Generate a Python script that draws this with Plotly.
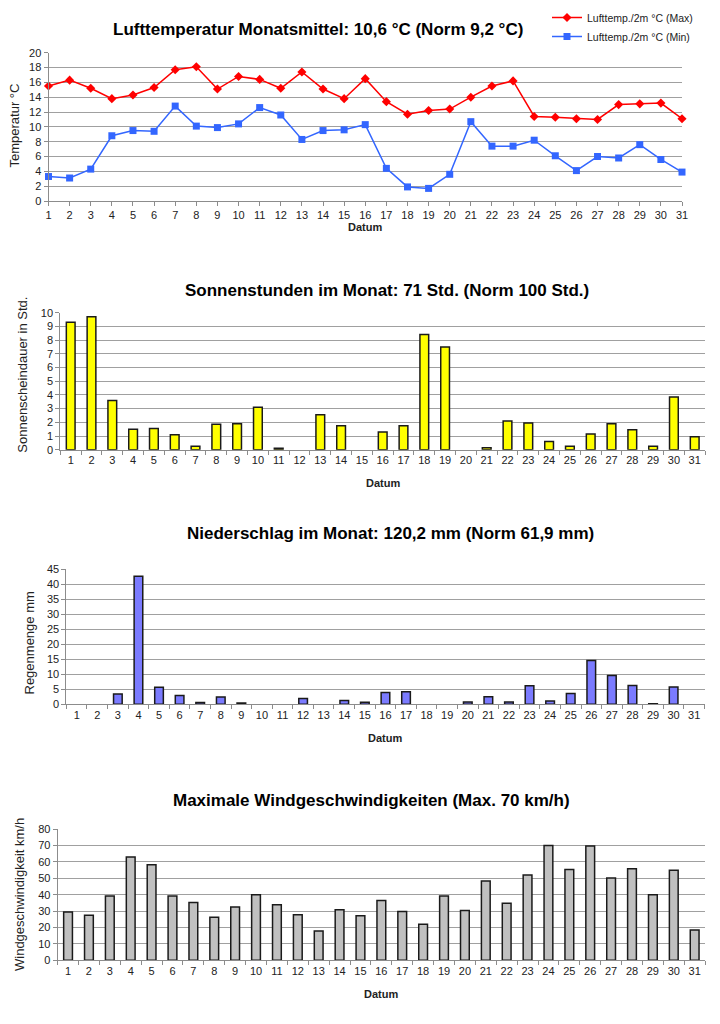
import plotly.graph_objects as go

W, H = 720, 1024
# the page shows the figure 8 px in from the top left corner
RAND = 8

tage = list(range(1, 32))
tage_txt = [str(t) for t in tage]

temp_max = [15.5, 16.3, 15.2, 13.8, 14.3, 15.3, 17.7, 18.1, 15.1, 16.8, 16.4, 15.2, 17.4, 15.1, 13.8, 16.5,
            13.4, 11.7, 12.2, 12.4, 14.0, 15.5, 16.2, 11.4, 11.3, 11.1, 11.0, 13.0, 13.1, 13.2, 11.1]
temp_min = [3.3, 3.1, 4.3, 8.8, 9.5, 9.4, 12.8, 10.1, 9.9, 10.4, 12.6, 11.6, 8.3, 9.5, 9.6, 10.3,
            4.4, 1.9, 1.7, 3.6, 10.7, 7.4, 7.4, 8.2, 6.1, 4.1, 6.0, 5.8, 7.6, 5.6, 3.9]
# None = kein Wert an dem Tag (kein Balken)
sonne = [9.3, 9.7, 3.6, 1.5, 1.55, 1.1, 0.25, 1.85, 1.9, 3.1, 0.1, None, 2.55, 1.75, None, 1.3,
         1.75, 8.4, 7.5, None, 0.15, 2.1, 1.95, 0.6, 0.25, 1.15, 1.9, 1.45, 0.25, 3.85, 0.95]
regen = [None, None, 3.4, 42.7, 5.7, 2.9, 0.6, 2.4, 0.4, None, None, 1.9, None, 1.3, 0.7, 3.9,
         4.2, None, None, 0.8, 2.5, 0.8, 6.2, 1.1, 3.6, 14.6, 9.6, 6.3, 0.2, 5.8, None]
wind = [29.5, 27.5, 39.2, 63, 58.2, 39.2, 35.2, 26.3, 32.5, 40, 33.8, 27.8, 17.8, 30.8, 27.2, 36.5,
        29.8, 22, 39.2, 30.3, 48.3, 34.7, 52, 70, 55.3, 69.6, 50.2, 55.8, 40, 54.8, 18.5]

titel = ["Lufttemperatur Monatsmittel: 10,6 °C (Norm 9,2 °C)",
         "Sonnenstunden im Monat: 71 Std. (Norm 100 Std.)",
         "Niederschlag im Monat: 120,2 mm (Norm 61,9 mm)",
         "Maximale Windgeschwindigkeiten (Max. 70 km/h)"]
y_titel = ["Temperatur °C", "Sonnenscheindauer in Std.", "Regenmenge mm", "Windgeschwindigkeit km/h"]

NARROW = "Liberation Sans Narrow, Arial Narrow, Liberation Sans, Arial"
ARIAL = "Liberation Sans, Arial"


def px_x(v):
    return (v - RAND) / W


def px_y(v):
    return 1 - (v - RAND) / H


# plot areas in pixels: left, right, top, bottom
boxes = [(48.5, 682, 52.7, 201), (60.3, 705.1, 312.7, 449.7),
         (66.4, 704.5, 569.3, 704.3), (57.6, 705.1, 829, 960.3)]
titel_pos = [(318, 29.3), (387, 290.7), (390, 533), (371, 800.7)]
ytitel_pos = [(14, 125.5), (21.7, 375), (28.5, 643), (19, 895)]
datum_y = [227.3, 482.7, 738, 993.7]
y_ranges = [(0, 20, 2), (0, 10, 1), (0, 45, 5), (0, 80, 10)]

fig = go.Figure()

fig.add_trace(go.Scatter(x=tage, y=temp_max, mode="lines+markers", name="Lufttemp./2m °C (Max)",
                         line=dict(color="#ff0000", width=1.5), cliponaxis=False,
                         marker=dict(symbol="diamond", size=7, color="#ff0000"),
                         xaxis="x", yaxis="y"))
fig.add_trace(go.Scatter(x=tage, y=temp_min, mode="lines+markers", name="Lufttemp./2m °C (Min)",
                         line=dict(color="#3366ff", width=1.5), cliponaxis=False,
                         marker=dict(symbol="square", size=7, color="#3366ff"),
                         xaxis="x", yaxis="y"))

bar_daten = [(sonne, "#ffff00"), (regen, "#7b7bff"), (wind, "#c0c0c0")]
for i, (werte, farbe) in enumerate(bar_daten):
    n = i + 2
    fig.add_trace(go.Bar(x=tage_txt, y=werte, width=0.42, showlegend=False,
                         marker=dict(color=farbe, line=dict(color="#1a1a1a", width=1.5)),
                         xaxis="x%d" % n, yaxis="y%d" % n))

layout = dict(width=W, height=H, margin=dict(l=0, r=0, t=0, b=0, pad=0, autoexpand=False),
              paper_bgcolor="white", plot_bgcolor="white", bargap=0.58,
              font=dict(family=ARIAL, size=11, color="#222222"),
              legend=dict(x=px_x(547), y=px_y(3), xanchor="left", yanchor="top",
                          font=dict(family=ARIAL, size=10.5, color="#222222"),
                          bgcolor="rgba(0,0,0,0)", tracegroupgap=0))

annotations = []
for i in range(4):
    n = "" if i == 0 else str(i + 1)
    l, r, t, b = boxes[i]
    y0, y1, dy = y_ranges[i]
    xa = dict(domain=[px_x(l), px_x(r)], anchor="y" + n, showgrid=False,
              showline=True, linecolor="#8c8c8c", linewidth=1,
              ticks="outside", ticklen=4, tickcolor="#8c8c8c", tickangle=0,
              tickfont=dict(family=ARIAL, size=11, color="#222222"), fixedrange=True)
    if i == 0:
        xa.update(type="linear", range=[1, 31], tickmode="array", tickvals=tage)
    else:
        xa.update(type="category", tickson="boundaries")
    ya = dict(domain=[px_y(b), px_y(t)], anchor="x" + n, range=[y0, y1], dtick=dy,
              tick0=0, showgrid=True, gridcolor="#a0a0a0", gridwidth=1,
              showline=True, linecolor="#8c8c8c", linewidth=1, zeroline=False,
              ticks="outside", ticklen=4, tickcolor="#8c8c8c",
              tickfont=dict(family=ARIAL, size=11, color="#222222"), fixedrange=True)
    layout["xaxis" + n] = xa
    layout["yaxis" + n] = ya

    tx, ty = titel_pos[i]
    annotations.append(dict(text="<b>%s</b>" % titel[i], x=px_x(tx), y=px_y(ty), xref="paper", yref="paper",
                            showarrow=False, xanchor="center", yanchor="middle",
                            font=dict(family=NARROW, size=17, color="black")))
    ax, ay = ytitel_pos[i]
    annotations.append(dict(text=y_titel[i], x=px_x(ax), y=px_y(ay), xref="paper", yref="paper",
                            showarrow=False, xanchor="center", yanchor="middle", textangle=-90,
                            font=dict(family=ARIAL, size=13, color="#222222")))
    annotations.append(dict(text="<b>Datum</b>", x=px_x((l + r) / 2), y=px_y(datum_y[i]),
                            xref="paper", yref="paper", showarrow=False,
                            xanchor="center", yanchor="middle",
                            font=dict(family=NARROW, size=11, color="#222222")))

layout["annotations"] = annotations
fig.update_layout(**layout)

fig.write_html("out.html")
